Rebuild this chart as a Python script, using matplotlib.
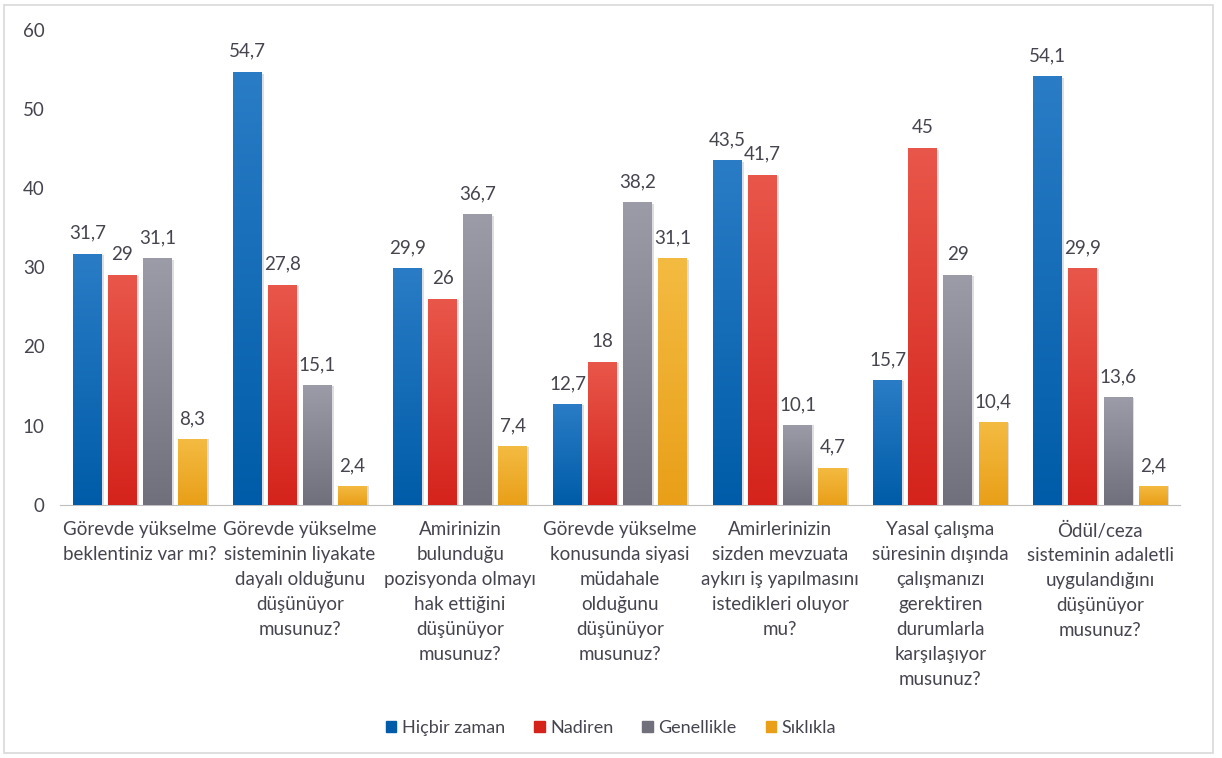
import numpy as np
import matplotlib.pyplot as plt
from matplotlib.colors import LinearSegmentedColormap
from matplotlib.patches import Rectangle

plt.rcParams['font.family'] = ['Lato', 'DejaVu Sans']

# Survey questions (x axis) and answer shares in percent
questions = [
    'Görevde yükselme\nbeklentiniz var mı?',
    'Görevde yükselme\nsisteminin liyakate\ndayalı olduğunu\ndüşünüyor\nmusunuz?',
    'Amirinizin\nbulunduğu\npozisyonda olmayı\nhak ettiğini\ndüşünüyor\nmusunuz?',
    'Görevde yükselme\nkonusunda siyasi\nmüdahale\nolduğunu\ndüşünüyor\nmusunuz?',
    'Amirlerinizin\nsizden mevzuata\naykırı iş yapılmasını\nistedikleri oluyor\nmu?',
    'Yasal çalışma\nsüresinin dışında\nçalışmanızı\ngerektiren\ndurumlarla\nkarşılaşıyor\nmusunuz?',
    'Ödül/ceza\nsisteminin adaletli\nuygulandığını\ndüşünüyor\nmusunuz?',
]
answers = ['Hiçbir zaman', 'Nadiren', 'Genellikle', 'Sıklıkla']
hicbir = [31.7, 54.7, 29.9, 12.7, 43.5, 15.7, 54.1]
nadiren = [29, 27.8, 26, 18, 41.7, 45, 29.9]
genellikle = [31.1, 15.1, 36.7, 38.2, 10.1, 29, 13.6]
siklikla = [8.3, 2.4, 7.4, 31.1, 4.7, 10.4, 2.4]
series = [hicbir, nadiren, genellikle, siklikla]

# (bottom colour, top colour) for each answer
shades = [('#005ca8', '#2a7cc6'),
          ('#d4231b', '#e9574a'),
          ('#70707c', '#9c9ca8'),
          ('#e99f18', '#f4bb42')]
text_col = '#45454f'
fs = 13.5

fig = plt.figure(figsize=(12.22, 7.58), dpi=100)
ax = fig.add_axes([0.049, 0.334, 0.917, 0.627])

x = np.arange(len(questions))
step = 0.219
width = 0.18

def fmt(v):
    return ('%g' % v).replace('.', ',')

for i, (vals, (c0, c1)) in enumerate(zip(series, shades)):
    pos = x + (i - 1.5) * step
    bars = ax.bar(pos, vals, width, color=c0, label=answers[i], zorder=2)
    cmap = LinearSegmentedColormap.from_list('g%d' % i, [c0, c1])
    grad = np.linspace(0, 1, 256).reshape(-1, 1)
    for b, v in zip(bars, vals):
        x0, w, h = b.get_x(), b.get_width(), b.get_height()
        # soft drop shadow on the right edge
        ax.add_patch(Rectangle((x0 + w, 0), 0.012, h * 0.995, color='#c8c8cc',
                               alpha=0.6, lw=0, zorder=1))
        im = ax.imshow(grad, cmap=cmap, origin='lower', aspect='auto',
                       extent=(x0, x0 + w, 0, h), zorder=3)
        im.set_clip_path(b)
        ax.text(x0 + w / 2, v + 1.5, fmt(v), ha='center', va='bottom',
                fontsize=fs, color=text_col, zorder=4)

ax.set_xlim(-0.5, len(questions) - 0.5)
ax.set_ylim(0, 60)
ax.set_yticks(range(0, 61, 10))
ax.set_xticks(x)
ax.set_xticklabels(questions, fontsize=fs, color=text_col, linespacing=1.56,
                   va='top')
ax.tick_params(axis='both', length=0, labelsize=fs, colors=text_col)
ax.tick_params(axis='y', pad=11)
ax.tick_params(axis='x', pad=12)
for s in ['top', 'right', 'left']:
    ax.spines[s].set_visible(False)
ax.spines['bottom'].set_color('#bfbfbf')
ax.set_facecolor('none')

handles = [Rectangle((0, 0), 1, 1, color=c0) for c0, _ in shades]
fig.legend(handles, answers, loc='center', bbox_to_anchor=(0.5, 0.04),
           ncol=4, frameon=False, fontsize=13, handlelength=0.6,
           handleheight=0.6, handletextpad=0.3, columnspacing=1.6,
           labelcolor=text_col)

# light frame around the whole chart
fig.add_artist(Rectangle((0.003, 0.006), 0.990, 0.988, transform=fig.transFigure,
                         fill=False, edgecolor='#d9d9d9', lw=1.2))

fig.savefig('out.png', dpi=100)
